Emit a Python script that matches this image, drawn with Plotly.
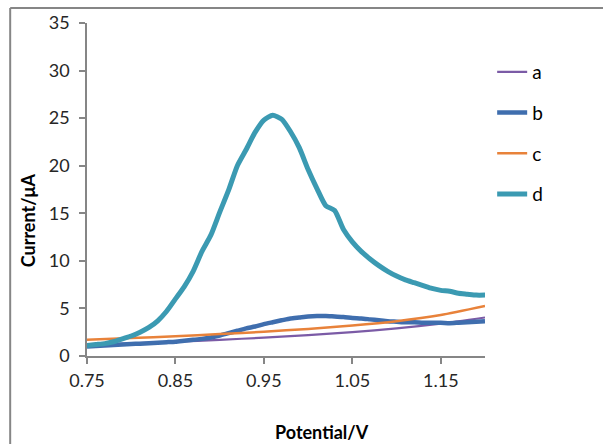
import plotly.graph_objects as go

# ---- data ----
x_fine = [0.75, 0.76, 0.77, 0.78, 0.79, 0.80, 0.81, 0.82, 0.83, 0.84,
          0.85, 0.86, 0.87, 0.88, 0.89, 0.90, 0.91, 0.92, 0.93, 0.94,
          0.95, 0.96, 0.97, 0.98, 0.99, 1.00, 1.01, 1.02, 1.03, 1.04,
          1.05, 1.06, 1.07, 1.08, 1.09, 1.10, 1.11, 1.12, 1.13, 1.14,
          1.15, 1.16, 1.17, 1.18, 1.19, 1.20]
d_vals = [1.1, 1.2, 1.3, 1.5, 1.8, 2.1, 2.5, 3.0, 3.7, 4.7,
          6.0, 7.3, 8.9, 11.0, 12.7, 15.1, 17.4, 20.0, 21.7, 23.5,
          24.8, 25.3, 24.9, 23.6, 21.9, 19.6, 17.6, 15.8, 15.3, 13.3,
          12.0, 11.0, 10.2, 9.5, 8.9, 8.4, 8.0, 7.7, 7.4, 7.1,
          6.9, 6.8, 6.6, 6.5, 6.4, 6.4]
b_vals = [1.0, 1.05, 1.1, 1.15, 1.2, 1.25, 1.3, 1.35, 1.4, 1.45,
          1.5, 1.6, 1.7, 1.8, 1.95, 2.15, 2.4, 2.65, 2.9, 3.1,
          3.35, 3.55, 3.75, 3.95, 4.05, 4.15, 4.2, 4.2, 4.15, 4.1,
          4.0, 3.95, 3.85, 3.75, 3.65, 3.6, 3.55, 3.55, 3.5, 3.5,
          3.5, 3.45, 3.5, 3.55, 3.6, 3.65]
x_coarse = [0.75, 0.80, 0.85, 0.90, 0.95, 1.00, 1.05, 1.10, 1.15, 1.20]
a_vals = [1.15, 1.32, 1.5, 1.7, 1.93, 2.2, 2.5, 2.9, 3.4, 4.05]
c_vals = [1.70, 1.88, 2.08, 2.30, 2.55, 2.85, 3.2, 3.65, 4.3, 5.25]

x_ticks = [0.75, 0.85, 0.95, 1.05, 1.15]
x_tick_labels = ["0.75", "0.85", "0.95", "1.05", "1.15"]
y_ticks = [0, 5, 10, 15, 20, 25, 30, 35]
x_title = "Potential/V"
y_title = "Current/μA"

series = [
    ("a", x_coarse, a_vals, "#7B5BA6", 2.2),
    ("b", x_fine, b_vals, "#3F6EAE", 4.5),
    ("c", x_coarse, c_vals, "#E8823A", 2.5),
    ("d", x_fine, d_vals, "#3B9AB2", 5),
]

FONT = "Lato, Carlito, 'Open Sans', sans-serif"

fig = go.Figure()
for name, xs, ys, color, w in series:
    fig.add_trace(go.Scatter(
        x=xs, y=ys, mode="lines", name=name, legendgroup=name,
        line=dict(color=color, width=w, shape="spline", smoothing=0.6),
    ))

axis_common = dict(
    showline=True, linecolor="#868686", linewidth=1.5,
    ticks="outside", tickcolor="#868686", ticklen=6, tickwidth=1.5,
    showgrid=False, zeroline=False, automargin=False,
)

fig.update_layout(
    width=603, height=444,
    margin=dict(l=87, r=118, t=23, b=88),
    paper_bgcolor="white", plot_bgcolor="white",
    font=dict(family=FONT, size=17, color="#262626"),
    xaxis=dict(range=[0.75, 1.2], tickvals=x_ticks, ticktext=x_tick_labels,
               tickfont=dict(family=FONT, size=18, color="#262626"),
               ticklabelstandoff=2,
               **axis_common),
    yaxis=dict(range=[0, 35], tickvals=y_ticks,
               tickfont=dict(family=FONT, size=18, color="#262626"),
               ticklabelstandoff=6,
               **axis_common),
    legend=dict(x=1.018, xanchor="left", y=0.91, yanchor="top",
                tracegroupgap=13, bgcolor="rgba(0,0,0,0)",
                font=dict(family=FONT, size=19, color="black")),
    annotations=[
        dict(text=f"<b>{x_title}</b>", xref="paper", yref="paper",
             x=0.59, y=-0.228, xanchor="center", yanchor="middle",
             showarrow=False, font=dict(family=FONT, size=18, color="black")),
        dict(text=f"<b>{y_title}</b>", xref="paper", yref="paper",
             x=-0.148, y=0.408, xanchor="center", yanchor="middle",
             textangle=-90, showarrow=False,
             font=dict(family=FONT, size=18, color="black")),
    ],
    shapes=[
        dict(type="line", xref="paper", yref="paper", x0=-0.193, x1=1.5,
             y0=1.045, y1=1.045, line=dict(color="#868686", width=2)),
        dict(type="line", xref="paper", yref="paper", x0=-0.193, x1=-0.193,
             y0=1.045, y1=-0.5, line=dict(color="#868686", width=2)),
    ],
)

fig.write_html("out.html")
